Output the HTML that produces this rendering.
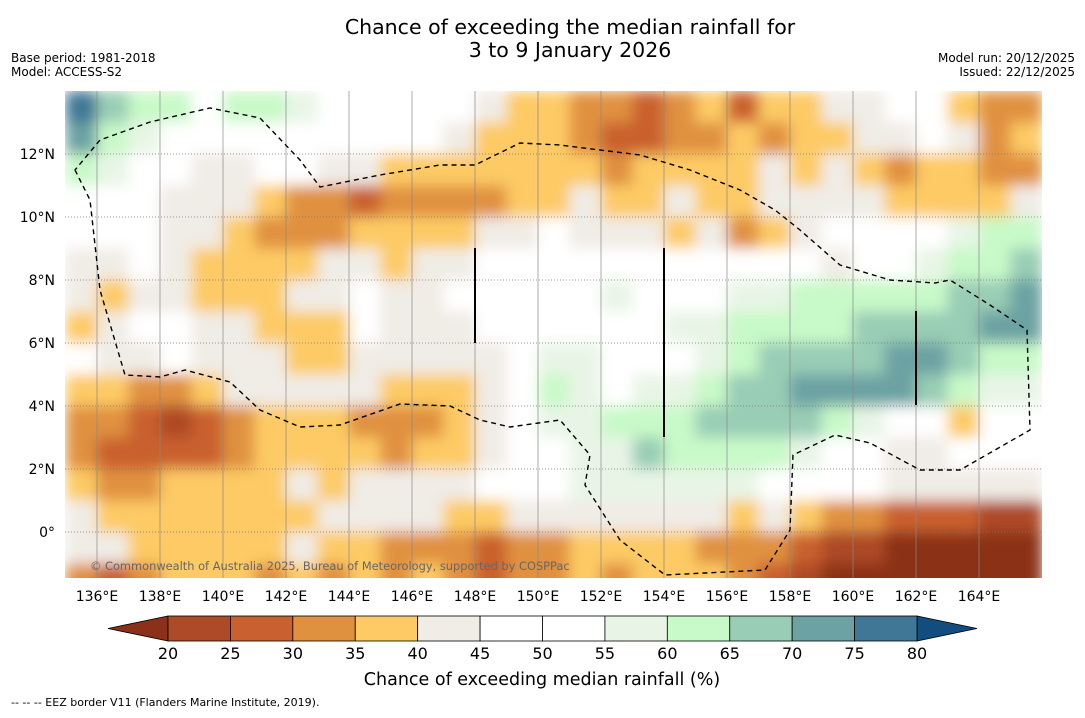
<!DOCTYPE html>
<html><head><meta charset="utf-8"><style>
body{margin:0;background:#fff;font-family:"Liberation Sans","DejaVu Sans",sans-serif}
</style></head><body>
<svg width="1085" height="713" viewBox="0 0 1085 713" xmlns="http://www.w3.org/2000/svg" font-family="DejaVu Sans, Liberation Sans, sans-serif">
<rect width="1085" height="713" fill="#fff"/>
<text x="570" y="34" font-size="20.5" text-anchor="middle">Chance of exceeding the median rainfall for</text>
<text x="570" y="57" font-size="20.5" text-anchor="middle">3 to 9 January 2026</text>
<text x="11" y="62" font-size="12">Base period: 1981-2018</text>
<text x="11" y="76" font-size="12">Model: ACCESS-S2</text>
<text x="1075" y="62" font-size="12" text-anchor="end">Model run: 20/12/2025</text>
<text x="1075" y="76" font-size="12" text-anchor="end">Issued: 22/12/2025</text>
<defs>
<clipPath id="mapclip"><rect x="65" y="91" width="977" height="487"/></clipPath>
<filter id="smooth" x="65" y="91" width="977" height="504" filterUnits="userSpaceOnUse"><feGaussianBlur stdDeviation="7" edgeMode="duplicate"/></filter>
</defs>
<g clip-path="url(#mapclip)"><g id="cells" filter="url(#smooth)"></g></g>
<g id="grid" clip-path="url(#mapclip)"></g>
<g clip-path="url(#mapclip)">
<path fill="none" stroke="#000" stroke-width="1.4" stroke-dasharray="5,4" d="M75,170 L90,200 L100,290 L125,375 L160,377 L185,370 L230,382 L260,410 L300,427 L340,425 L400,404 L450,406 L480,420 L510,427 L560,420 L590,455 L585,485 L620,540 L665,575 L765,570 L790,530 L793,455 L835,435 L870,443 L920,470 L960,470 L1030,430 L1027,330 L990,305 L950,280 L935,283 L890,280 L840,265 L800,230 L775,210 L740,190 L690,170 L640,155 L600,150 L560,145 L520,143 L475,165 L440,165 L380,175 L320,187 L300,160 L260,118 L210,108 L150,122 L100,140 Z"/>
<line x1="475" y1="248" x2="475" y2="343" stroke="#000" stroke-width="2"/>
<line x1="664" y1="248" x2="664" y2="437" stroke="#000" stroke-width="2"/>
<line x1="916" y1="311" x2="916" y2="405" stroke="#000" stroke-width="2"/>
</g>
<text x="90" y="570" font-size="11.4" fill="#666">© Commonwealth of Australia 2025, Bureau of Meteorology, supported by COSPPac</text>
<g id="axes"></g>
<g id="cbar"></g>
<text x="542" y="685" font-size="17.5" text-anchor="middle">Chance of exceeding median rainfall (%)</text>
<text x="11" y="706" font-size="11">--  --  -- EEZ border V11 (Flanders Marine Institute, 2019).</text>
</svg>
<script>
const lonStart=135, latTop=14, pxPerDeg=31.5, x0=65.5, y0=91;
const lonTicks=[136,138,140,142,144,146,148,150,152,154,156,158,160,162,164];
const latTicks=[0,2,4,6,8,10,12];
const cbarBounds=[20,25,30,35,40,45,50,55,60,65,70,75,80];
const cbarColors=["#ad4a27","#c9602f","#e0913f","#fdca65","#f0ece6","#ffffff","#ffffff","#e8f5e6","#c8f9c8","#99cdb5","#6ca2a3","#417796"];
const grid=[
[77,67,62,62,52,62,62,57,52,52,52,52,47,42,37,37,32,32,27,32,37,27,37,37,42,42,47,47,37,32,32],
[72,62,57,52,52,47,52,52,52,52,52,52,42,37,37,37,32,27,27,32,32,37,32,37,37,42,42,47,42,32,37],
[62,57,52,52,42,42,47,47,42,42,37,37,37,37,37,37,37,32,37,37,37,37,42,37,42,37,32,37,37,32,32],
[52,52,52,42,42,42,37,32,32,27,32,32,32,32,37,37,42,37,37,42,37,37,42,42,42,42,37,37,37,37,42],
[47,47,52,42,42,37,32,32,32,37,37,37,37,42,42,47,42,42,42,37,42,32,37,42,47,52,52,52,57,62,62],
[42,42,47,42,37,37,37,37,42,42,37,42,42,47,47,52,52,52,52,52,52,52,52,52,42,47,52,57,62,62,67],
[42,37,42,42,37,37,37,42,42,47,42,42,47,52,52,52,52,57,52,52,52,57,57,62,62,62,62,62,67,67,72],
[37,42,47,47,42,42,37,37,37,47,42,42,42,47,52,52,52,52,52,57,57,62,62,62,62,67,67,67,67,72,72],
[47,42,42,47,42,42,42,37,37,42,42,42,42,42,52,57,57,52,52,52,57,62,67,67,67,67,72,72,67,62,62],
[37,37,32,32,37,42,42,42,42,42,37,37,37,42,52,62,57,52,57,57,62,67,67,72,72,72,72,67,62,57,57],
[32,32,27,22,27,32,37,37,37,32,32,32,37,42,52,57,57,62,62,62,67,67,67,67,62,57,52,52,37,47,47],
[32,27,27,27,27,32,37,37,37,37,32,37,37,42,47,52,57,57,67,62,62,62,62,57,52,52,42,42,47,47,47],
[37,32,32,37,37,37,37,42,37,42,42,42,42,47,52,52,57,57,57,57,57,57,52,52,47,47,42,42,42,42,42],
[42,37,37,37,37,37,37,37,42,42,42,42,37,37,42,42,42,42,42,42,42,37,42,37,32,32,27,27,27,22,22],
[42,42,37,37,37,37,37,42,37,37,32,32,32,27,32,32,37,37,37,37,32,32,32,27,22,22,15,15,15,15,15],
[32,27,32,37,37,37,32,37,32,37,32,37,32,27,32,32,37,32,37,37,37,32,27,22,15,15,15,15,15,15,15]
];
const NS="http://www.w3.org/2000/svg";
function xOf(lon){return x0+(lon-lonStart)*pxPerDeg;}
function yOf(lat){return y0+(latTop-lat)*pxPerDeg;}
function colorOf(v){if(v<cbarBounds[0])return "#8b3119";if(v>=cbarBounds[cbarBounds.length-1])return "#124d80";
 for(let i=0;i<cbarColors.length;i++){if(v<cbarBounds[i+1])return cbarColors[i];}return "#124d80";}
function mk(tag,attrs,parent){const e=document.createElementNS(NS,tag);for(const k in attrs)e.setAttribute(k,attrs[k]);parent.appendChild(e);return e;}
const cg=document.getElementById('cells');
grid.forEach((row,r)=>row.forEach((v,c)=>{
 const rc=mk('rect',{x:xOf(lonStart+c),y:yOf(latTop-r),width:pxPerDeg+0.6,height:pxPerDeg+0.6,fill:colorOf(v)},cg);
 
 
}));
const gg=document.getElementById('grid'), ag=document.getElementById('axes');
lonTicks.forEach(l=>{
 const ln=mk('line',{x1:xOf(l),x2:xOf(l),y1:91,y2:578,stroke:'#888','stroke-width':0.7},gg);
 
 
 const t=mk('text',{x:xOf(l),y:601,'font-size':14,'text-anchor':'middle'},ag);t.textContent=l+'°E';
 
 
});
latTicks.forEach(l=>{
 const ln=mk('line',{x1:65,x2:1042,y1:yOf(l),y2:yOf(l),stroke:'#777','stroke-width':0.7,'stroke-dasharray':'1,2'},gg);
 
 
 const t=mk('text',{x:55,y:yOf(l)+5,'font-size':14,'text-anchor':'end'},ag);t.textContent=l===0?'0°':l+'°N';
 
 
});
const cb=document.getElementById('cbar'), cbx0=168, cbx1=917, cby=616, cbh=25;
const seg=(cbx1-cbx0)/cbarColors.length;
const lt=mk('polygon',{points:`108,${cby+cbh/2} ${cbx0},${cby} ${cbx0},${cby+cbh}`,fill:'#8b3119',stroke:'#000','stroke-width':0.8},cb);


const rt=mk('polygon',{points:`977,${cby+cbh/2} ${cbx1},${cby} ${cbx1},${cby+cbh}`,fill:'#124d80',stroke:'#000','stroke-width':0.8},cb);


cbarColors.forEach((c,i)=>{
 const r=mk('rect',{x:cbx0+i*seg,y:cby,width:seg,height:cbh,fill:c,stroke:'#000','stroke-width':0.8},cb);
 
 
});
cbarBounds.forEach((b,i)=>{
 const t=mk('text',{x:cbx0+i*seg,y:659,'font-size':16,'text-anchor':'middle'},cb);t.textContent=b;
 
 
});
</script>
</body></html>
